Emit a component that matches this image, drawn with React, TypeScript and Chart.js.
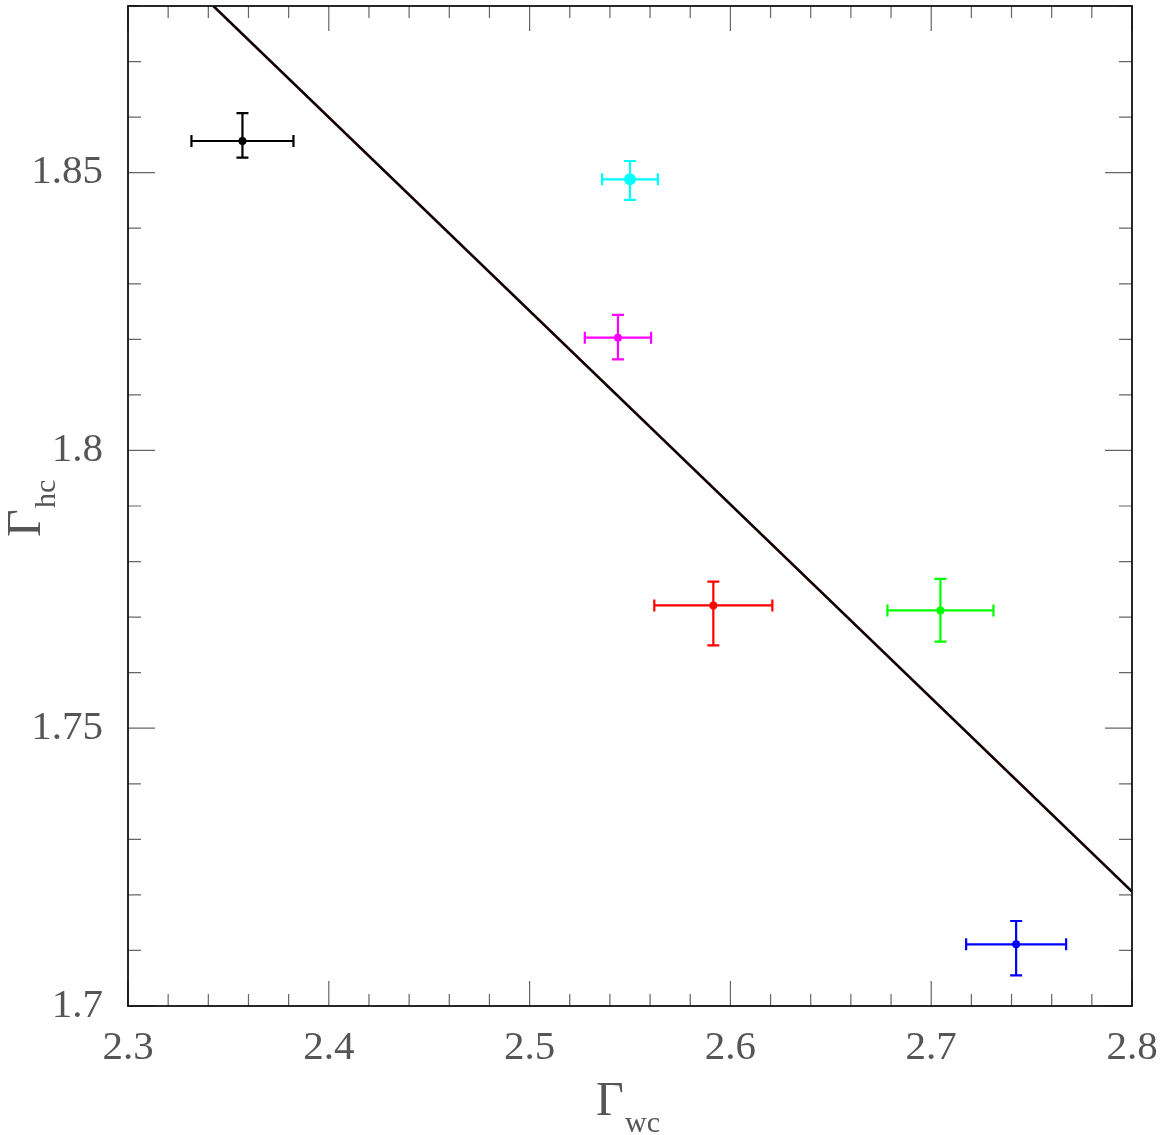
import React, { useEffect, useRef } from "react";
import { Chart, registerables } from "chart.js";

Chart.register(...registerables);

// ---- data ----
const pointNames = ["black", "cyan", "magenta", "red", "green", "blue"];
const pointX = [2.357, 2.55, 2.544, 2.5915, 2.7046, 2.7423];
const pointY = [1.8557, 1.8488, 1.8203, 1.7721, 1.7712, 1.7111];
const pointXErr = [0.0254, 0.0139, 0.0165, 0.0294, 0.0264, 0.0249];
const pointYErrUp = [0.005, 0.0033, 0.0041, 0.0043, 0.0057, 0.0042];
const pointYErrDown = [0.003, 0.0037, 0.0039, 0.0072, 0.0056, 0.0056];
const pointColors = ["#000000", "#00ffff", "#ff00ff", "#ff0000", "#00ff00", "#0000ff"];
const pointRadius = [4, 6, 4, 4, 4, 4];

const fitX = [2.3425, 2.8];
const fitY = [1.88, 1.7206];

const xMin = 2.3;
const xMax = 2.8;
const yMin = 1.7;
const yMax = 1.88;
const xMajorTicks = [2.3, 2.4, 2.5, 2.6, 2.7, 2.8];
const yMajorTicks = [1.7, 1.75, 1.8, 1.85];
const xMinorStep = 0.02;
const yMinorStep = 0.01;

const W = 1163;
const H = 1135;
const FONT = "'Liberation Serif', 'DejaVu Serif', serif";
const TEXT_COLOR = "#555555";

const framePlugin = {
  id: "frameTicksErrors",
  afterDatasetsDraw(chart: any) {
    const ctx = chart.ctx;
    const xs = chart.scales.x;
    const ys = chart.scales.y;
    // error bars
    ctx.save();
    for (let i = 0; i < pointX.length; i++) {
      const cx = xs.getPixelForValue(pointX[i]);
      const cy = ys.getPixelForValue(pointY[i]);
      const xl = xs.getPixelForValue(pointX[i] - pointXErr[i]);
      const xr = xs.getPixelForValue(pointX[i] + pointXErr[i]);
      const yt = ys.getPixelForValue(pointY[i] + pointYErrUp[i]);
      const yb = ys.getPixelForValue(pointY[i] - pointYErrDown[i]);
      const cap = 6;
      ctx.strokeStyle = pointColors[i];
      ctx.lineWidth = 2.2;
      ctx.beginPath();
      ctx.moveTo(xl, cy);
      ctx.lineTo(xr, cy);
      ctx.moveTo(xl, cy - cap);
      ctx.lineTo(xl, cy + cap);
      ctx.moveTo(xr, cy - cap);
      ctx.lineTo(xr, cy + cap);
      ctx.moveTo(cx, yt);
      ctx.lineTo(cx, yb);
      ctx.moveTo(cx - cap, yt);
      ctx.lineTo(cx + cap, yt);
      ctx.moveTo(cx - cap, yb);
      ctx.lineTo(cx + cap, yb);
      ctx.stroke();
    }
    ctx.restore();
  },
  afterDraw(chart: any) {
    const ctx = chart.ctx;
    const xs = chart.scales.x;
    const ys = chart.scales.y;
    const { left, right, top, bottom } = chart.chartArea;
    ctx.save();
    // ticks
    ctx.strokeStyle = "#666";
    ctx.lineWidth = 1.2;
    ctx.beginPath();
    const nx = Math.round((xMax - xMin) / xMinorStep);
    for (let k = 0; k <= nx; k++) {
      const v = xMin + k * xMinorStep;
      const isMajor = xMajorTicks.some((t) => Math.abs(t - v) < 1e-6);
      const len = isMajor ? 25 : 12;
      const px = xs.getPixelForValue(v);
      ctx.moveTo(px, bottom);
      ctx.lineTo(px, bottom - len);
      ctx.moveTo(px, top);
      ctx.lineTo(px, top + len);
    }
    const ny = Math.round((yMax - yMin) / yMinorStep);
    for (let k = 0; k <= ny; k++) {
      const v = yMin + k * yMinorStep;
      const isMajor = yMajorTicks.some((t) => Math.abs(t - v) < 1e-6);
      const len = isMajor ? 27 : 13;
      const py = ys.getPixelForValue(v);
      ctx.moveTo(left, py);
      ctx.lineTo(left + len, py);
      ctx.moveTo(right, py);
      ctx.lineTo(right - len, py);
    }
    ctx.stroke();
    // frame
    ctx.strokeStyle = "#111";
    ctx.lineWidth = 1.8;
    ctx.strokeRect(left, top, right - left, bottom - top);
    // axis titles
    ctx.fillStyle = TEXT_COLOR;
    ctx.textBaseline = "alphabetic";
    ctx.textAlign = "left";
    ctx.font = `48px ${FONT}`;
    ctx.fillText("Γ", 596, 1115);
    ctx.font = `30px ${FONT}`;
    ctx.fillText("wc", 625, 1132);
    ctx.save();
    ctx.translate(40, 537);
    ctx.rotate(-Math.PI / 2);
    ctx.font = `48px ${FONT}`;
    ctx.fillText("Γ", 0, 0);
    ctx.font = `30px ${FONT}`;
    ctx.fillText("hc", 29, 15);
    ctx.restore();
    ctx.restore();
  },
};

export default function App() {
  const ref = useRef<HTMLCanvasElement | null>(null);
  useEffect(() => {
    document.body.style.margin = "0";
    const canvas = ref.current!;
    const datasets: any[] = pointNames.map((name, i) => ({
      type: "scatter",
      label: name,
      data: [{ x: pointX[i], y: pointY[i] }],
      backgroundColor: pointColors[i],
      borderColor: pointColors[i],
      pointRadius: pointRadius[i],
      pointBorderWidth: 0,
    }));
    datasets.push({
      type: "line",
      label: "fit",
      data: fitX.map((x, i) => ({ x, y: fitY[i] })),
      borderColor: "#120000",
      borderWidth: 2.6,
      pointRadius: 0,
      fill: false,
    });
    const chart = new Chart(canvas, {
      type: "scatter",
      data: { datasets },
      plugins: [framePlugin],
      options: {
        animation: false,
        responsive: false,
        devicePixelRatio: 1,
        layout: { padding: { top: 3, right: 31, left: 0, bottom: 0 } },
        plugins: { legend: { display: false }, tooltip: { enabled: false } },
        scales: {
          x: {
            type: "linear",
            min: xMin,
            max: xMax,
            grid: { display: false, drawTicks: false },
            border: { display: false },
            afterBuildTicks: (s: any) => {
              s.ticks = xMajorTicks.map((v) => ({ value: v }));
            },
            afterFit: (s: any) => {
              s.height = 129;
              s.paddingLeft = 0;
              s.paddingRight = 0;
            },
            ticks: {
              autoSkip: false,
              maxRotation: 0,
              padding: 18,
              color: TEXT_COLOR,
              font: { family: FONT, size: 41 },
              callback: (v: any) => String(v),
            },
          },
          y: {
            type: "linear",
            min: yMin,
            max: yMax,
            grid: { display: false, drawTicks: false },
            border: { display: false },
            afterBuildTicks: (s: any) => {
              s.ticks = yMajorTicks.map((v) => ({ value: v }));
            },
            afterFit: (s: any) => {
              s.width = 128;
              s.paddingTop = 0;
              s.paddingBottom = 0;
            },
            ticks: {
              autoSkip: false,
              padding: 25,
              color: TEXT_COLOR,
              font: { family: FONT, size: 41 },
              callback: (v: any) => String(v),
            },
          },
        },
      },
    });
    return () => chart.destroy();
  }, []);
  return (
    <div style={{ width: W, height: H, background: "#fff" }}>
      <canvas ref={ref} width={W} height={H} style={{ display: "block" }} />
    </div>
  );
}
